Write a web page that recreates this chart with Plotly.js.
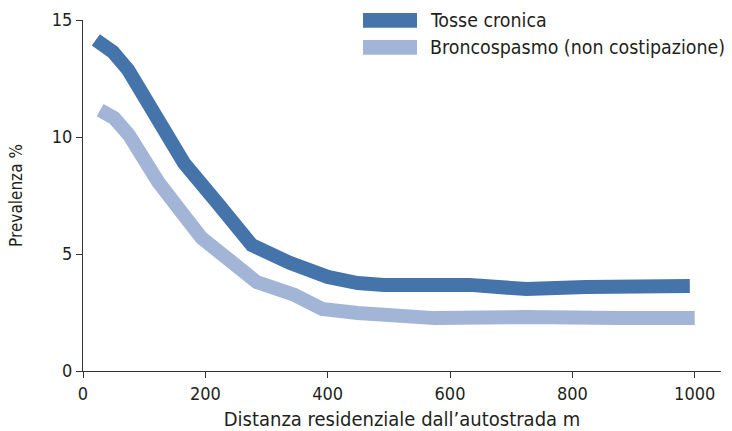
<!DOCTYPE html>
<html>
<head>
<meta charset="utf-8">
<script src="https://cdn.plot.ly/plotly-3.0.1.min.js"></script>
<style>html,body{margin:0;padding:0;background:#fff;}#chart{width:732px;height:431px;}</style>
</head>
<body>
<div id="chart"></div>
<script>
// Series names
var seriesNames = ["Tosse cronica", "Broncospasmo (non costipazione)"];
var seriesColors = ["#4574aa", "#a3b5d6"];

// Tosse cronica (distance m, prevalence %)
var tosseX = [21, 49, 74, 101, 121, 147, 165, 221, 276, 338, 400, 449, 492, 632, 725, 822, 992];
var tosseY = [14.15, 13.63, 12.86, 11.71, 10.68, 9.79, 8.89, 7.14, 5.38, 4.62, 4.02, 3.76, 3.68, 3.68, 3.50, 3.59, 3.63];

// Broncospasmo (non costipazione)
var broncoX = [28, 51, 75, 98, 123, 157, 194, 237, 284, 346, 391, 449, 515, 575, 725, 807, 877, 1000];
var broncoY = [11.15, 10.81, 10.09, 9.06, 8.08, 6.92, 5.68, 4.79, 3.80, 3.25, 2.65, 2.48, 2.39, 2.26, 2.31, 2.35, 2.26, 2.26];

// Axis ticks
var xTicks = [0, 200, 400, 600, 800, 1000];
var yTicks = [0, 5, 10, 15];

var FONT = '"DejaVu Sans Condensed", "Liberation Sans Narrow", Roboto, sans-serif';
var TXT = '#231f20';

var traces = [
  {x: tosseX, y: tosseY, mode: 'lines', name: seriesNames[0],
   line: {color: seriesColors[0], width: 14}, hoverinfo: 'skip'},
  {x: broncoX, y: broncoY, mode: 'lines', name: seriesNames[1],
   line: {color: seriesColors[1], width: 14}, hoverinfo: 'skip'}
];
// draw light series below dark
traces = [traces[1], traces[0]];

var legendRows = [0.999, 0.922];
var shapes = [], annotations = [];
for (var i = 0; i < seriesNames.length; i++) {
  shapes.push({type: 'rect', xref: 'paper', yref: 'paper',
    x0: 0.4389, x1: 0.5235, y0: legendRows[i] - 0.021, y1: legendRows[i] + 0.021,
    fillcolor: seriesColors[i], line: {width: 0}});
  annotations.push({xref: 'paper', yref: 'paper', x: 0.5408, y: legendRows[i],
    xanchor: 'left', yanchor: 'middle', showarrow: false, text: seriesNames[i],
    font: {family: FONT, size: 19.4, color: TXT}});
}

var layout = {
  width: 732, height: 431,
  margin: {l: 83, r: 11, t: 20, b: 60},
  paper_bgcolor: '#fff', plot_bgcolor: '#fff',
  showlegend: false,
  font: {family: FONT, size: 17, color: TXT},
  xaxis: {
    range: [0, 1043], tickvals: xTicks, ticktext: xTicks.map(String),
    showgrid: false, zeroline: false, showline: true, linecolor: '#333', linewidth: 1,
    ticks: 'outside', ticklen: 6, tickcolor: '#333',
    tickfont: {family: FONT, size: 18, color: TXT},
    title: {text: 'Distanza residenziale dall’autostrada m', standoff: 9,
      font: {family: FONT, size: 20, color: TXT}}
  },
  yaxis: {
    range: [0, 15], tickvals: yTicks, ticktext: yTicks.map(String),
    showgrid: false, zeroline: false, showline: true, linecolor: '#333', linewidth: 1,
    ticks: 'outside', ticklen: 6, tickcolor: '#333',
    tickfont: {family: FONT, size: 18, color: TXT},
    title: {text: 'Prevalenza %', standoff: 24,
      font: {family: FONT, size: 17, color: TXT}}
  },
  shapes: shapes,
  annotations: annotations
};

Plotly.newPlot('chart', traces, layout, {staticPlot: true, displayModeBar: false});
</script>
</body>
</html>
